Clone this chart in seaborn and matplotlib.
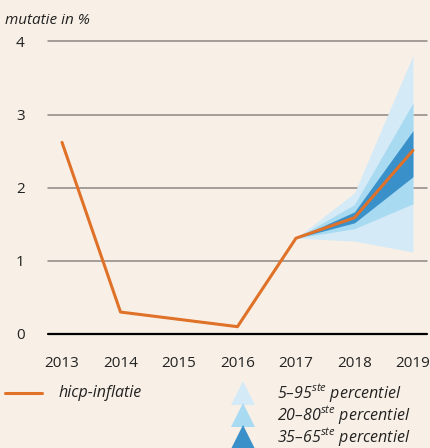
import numpy as np
import pandas as pd
import matplotlib
matplotlib.use("Agg")
import matplotlib.pyplot as plt
import seaborn as sns
from matplotlib.lines import Line2D

# data
years = [2013, 2014, 2015, 2016, 2017, 2018, 2019]
hicp = [2.62, 0.30, 0.20, 0.10, 1.31, 1.59, 2.51]

fan_years = [2017, 2018, 2019]
p05 = [1.31, 1.27, 1.12]
p95 = [1.31, 1.93, 3.81]
p20 = [1.31, 1.44, 1.78]
p80 = [1.31, 1.77, 3.16]
p35 = [1.31, 1.52, 2.15]
p65 = [1.31, 1.67, 2.78]

yticks = [0, 1, 2, 3, 4]
band_labels = ["5–95$^{ste}$ percentiel", "20–80$^{ste}$ percentiel", "35–65$^{ste}$ percentiel"]

BG = "#f8f0e6"
ORANGE = "#e07128"
C_LIGHT = "#d5eaf7"
C_MID = "#a8daf2"
C_DARK = "#3a90c9"
GRID = "#8e8782"
TXT = "#222222"

sns.set_style("white")
plt.rcParams["font.family"] = ["Open Sans", "DejaVu Sans"]
plt.rcParams["mathtext.fontset"] = "custom"
plt.rcParams["mathtext.it"] = "Open Sans:italic"
plt.rcParams["mathtext.rm"] = "Open Sans"

fig = plt.figure(figsize=(4.3, 4.48), dpi=100, facecolor=BG)
ax = fig.add_axes([0.1116, 0.2545, 0.8814, 0.6529])
ax.set_facecolor(BG)

df = pd.DataFrame({"jaar": years, "hicp": hicp})

ax.fill_between(fan_years, p05, p95, color=C_LIGHT, lw=0, zorder=1)
ax.fill_between(fan_years, p20, p80, color=C_MID, lw=0, zorder=2)
ax.fill_between(fan_years, p35, p65, color=C_DARK, lw=0, zorder=3)

for t in yticks[1:]:
    ax.axhline(t, color=GRID, lw=1.1, zorder=0, clip_on=False)
ax.axhline(0, color="black", lw=1.6, zorder=4, clip_on=False)

sns.lineplot(data=df, x="jaar", y="hicp", color=ORANGE, lw=2.2, ax=ax, zorder=5)

ax.set_xlim(2012.76, 2019.24)
ax.set_ylim(0, 4)
ax.set_xticks(years)
ax.set_xticklabels([str(y) for y in years], fontsize=11, color=TXT)
ax.set_yticks(yticks)
ax.set_yticklabels([str(t) for t in yticks], fontsize=11, color=TXT)
ax.tick_params(axis="x", length=5, width=0.8, color=GRID, pad=11, direction="out")
ax.tick_params(axis="y", length=0, pad=20)
for lab in ax.get_yticklabels():
    lab.set_horizontalalignment("center")
for s in ax.spines.values():
    s.set_visible(False)
ax.set_xlabel("")
ax.set_ylabel("")

fig.text(0.012, 0.955, "mutatie in %", fontsize=11, style="italic", color=TXT, va="center")

# legend, drawn by hand in figure coordinates
ly = 1 - 393 / 448
fig.add_artist(Line2D([0.012, 0.098], [ly, ly], color=ORANGE, lw=2.2, transform=fig.transFigure))
fig.text(0.135, ly, "hicp-inflatie", fontsize=11.5, style="italic", color=TXT, va="center")

rows = [1 - 393 / 448, 1 - 415 / 448, 1 - 437 / 448]
for y, c, lab in zip(rows, (C_LIGHT, C_MID, C_DARK), band_labels):
    fig.add_artist(Line2D([0.565], [y], ls="", marker="^", ms=17, color=c, mew=0,
                          transform=fig.transFigure))
    fig.text(0.644, y, lab, fontsize=11.5, style="italic", color=TXT, va="center")

fig.savefig("out.png", dpi=100, facecolor=BG)
